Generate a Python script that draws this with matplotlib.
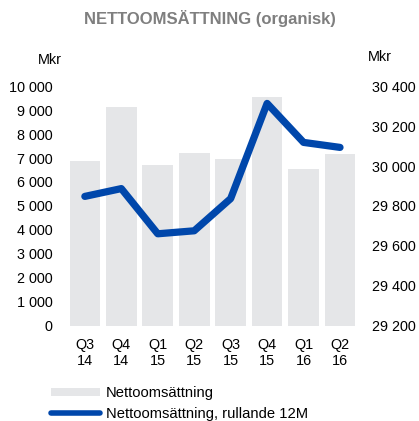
import numpy as np
import matplotlib.pyplot as plt
from matplotlib.patches import Patch
from matplotlib.lines import Line2D

plt.rcParams['font.family'] = ['Liberation Sans', 'DejaVu Sans']

# Data
kvartal = ['Q3\n14', 'Q4\n14', 'Q1\n15', 'Q2\n15', 'Q3\n15', 'Q4\n15', 'Q1\n16', 'Q2\n16']
nettoomsattning = [6870, 9120, 6700, 7200, 6960, 9540, 6540, 7170]
rullande_12m = [29848, 29887, 29661, 29676, 29837, 30313, 30118, 30093]
vanster_ticks = [0, 1000, 2000, 3000, 4000, 5000, 6000, 7000, 8000, 9000, 10000]
hoger_ticks = [29200, 29400, 29600, 29800, 30000, 30200, 30400]

def mellanslag(v):
    return f'{v:,}'.replace(',', ' ')

fig = plt.figure(figsize=(4.19, 4.21), dpi=100)
ax = fig.add_axes([0.159, 0.2257, 0.696, 0.570])
x = np.arange(len(kvartal))

ax.bar(x, nettoomsattning, width=0.84, color='#e5e6e8', zorder=1)
ax.set_xlim(-0.5, len(kvartal) - 0.5)
ax.set_ylim(0, 10000)
ax.set_yticks(vanster_ticks)
ax.set_yticklabels([mellanslag(v) for v in vanster_ticks])
ax.set_xticks(x)
ax.set_xticklabels(kvartal, linespacing=1.15)
ax.tick_params(axis='both', length=0, labelsize=10.4)
ax.tick_params(axis='y', pad=10)
ax.tick_params(axis='x', pad=9)
for s in ax.spines.values():
    s.set_visible(False)

ax2 = ax.twinx()
ax2.plot(x, rullande_12m, color='#0047ab', linewidth=5.2, solid_capstyle='round',
         solid_joinstyle='round', zorder=3)
ax2.set_ylim(29200, 30400)
ax2.set_yticks(hoger_ticks)
ax2.set_yticklabels([mellanslag(v) for v in hoger_ticks])
ax2.tick_params(axis='y', length=0, labelsize=10.4, pad=10)
for s in ax2.spines.values():
    s.set_visible(False)

fig.text(0.5, 0.957, 'NETTOOMSÄTTNING (organisk)', ha='center', va='center',
         fontsize=12, fontweight='bold', color='#7f7f7f')
fig.text(0.12, 0.857, 'Mkr', ha='center', va='center', fontsize=10.4)
fig.text(0.907, 0.865, 'Mkr', ha='center', va='center', fontsize=10.4)

handles = [Patch(facecolor='#e5e6e8', edgecolor='none'),
           Line2D([0], [0], color='#0047ab', linewidth=4, solid_capstyle='round')]
fig.legend(handles, ['Nettoomsättning', 'Nettoomsättning, rullande 12M'],
           loc='upper left', bbox_to_anchor=(0.122, 0.082), frameon=False,
           fontsize=10.6, handlelength=3.3, handleheight=0.5, handletextpad=0.4,
           labelspacing=0.45, borderpad=0, borderaxespad=0)

fig.savefig('out.png', dpi=100)
